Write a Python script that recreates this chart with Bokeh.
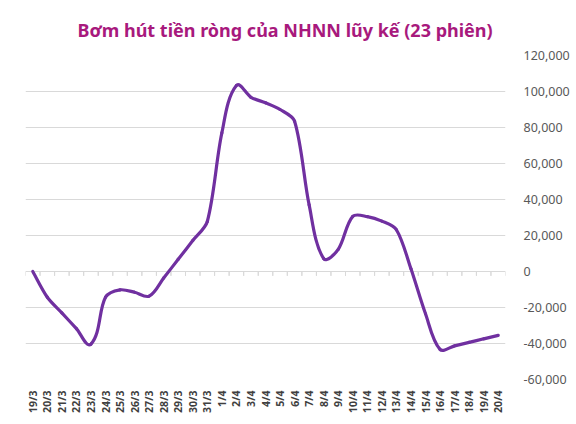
import math
from bokeh.plotting import figure
from bokeh.models import FactorRange, Range1d, LinearAxis, FixedTicker, NumeralTickFormatter, Title, ColumnDataSource
from bokeh.transform import dodge
from bokeh.embed import file_html
from bokeh.resources import INLINE

categories = ["19/3", "20/3", "21/3", "22/3", "23/3", "24/3", "25/3", "26/3", "27/3",
              "28/3", "29/3", "30/3", "31/3", "1/4", "2/4", "3/4", "4/4", "5/4", "6/4",
              "7/4", "8/4", "9/4", "10/4", "11/4", "12/4", "13/4", "14/4", "15/4",
              "16/4", "17/4", "18/4", "19/4", "20/4"]
values = [0, -14300, -23000, -31700, -40300, -14300, -10200, -11500, -13700,
          -3600, 6800, 17200, 27800, 77000, 103300, 96800, 93700, 90000, 83500,
          37000, 7200, 12300, 30600, 30500, 28000, 23200, 1500, -23500,
          -43300, -41300, -39400, -37400, -35500]
y_ticks = [-60000, -40000, -20000, 0, 20000, 40000, 60000, 80000, 100000, 120000]
title_text = "Bơm hút tiền ròng của NHNN lũy kế (23 phiên)"

FW, FH = 480, 324
Y0, Y1 = -60000, 120000

p = figure(x_range=FactorRange(factors=categories, range_padding=0),
           y_range=Range1d(Y0, Y1),
           frame_width=FW, frame_height=FH,
           min_border_left=25, min_border_right=63, min_border_top=55, min_border_bottom=37,
           output_backend="svg", toolbar_location=None, y_axis_location=None)
p.outline_line_color = None
p.background_fill_color = "white"
p.border_fill_color = "white"

t = Title(text=title_text, align="left", text_font="Noto Sans", text_font_style="bold",
          text_font_size="18px", text_color="#A8197D", standoff=27, offset=52)
p.add_layout(t, "above")

yax = LinearAxis(ticker=FixedTicker(ticks=y_ticks),
                 formatter=NumeralTickFormatter(format="0,0"))
yax.axis_line_color = None
yax.major_tick_line_color = None
yax.minor_tick_line_color = None
yax.major_label_standoff = 12
yax.major_label_text_font = "Noto Sans"
yax.major_label_text_font_size = "12.5px"
yax.major_label_text_color = "#595959"
p.add_layout(yax, "right")

xax = p.xaxis[0]
xax.axis_line_color = None
xax.major_tick_line_color = None
xax.minor_tick_line_color = None
xax.major_label_orientation = math.pi / 2
xax.major_label_standoff = 5
xax.major_label_text_font = "Noto Sans"
xax.major_label_text_font_style = "bold"
xax.major_label_text_font_size = "10.5px"
xax.major_label_text_color = "#404040"

p.xgrid.grid_line_color = None
p.ygrid.ticker = FixedTicker(ticks=y_ticks)
p.ygrid.grid_line_color = "#D9D9D9"
p.ygrid.grid_line_width = 1

# tick marks on the zero line, at category boundaries
src = ColumnDataSource(dict(cat=categories, y0=[0] * len(categories), y1=[-2400] * len(categories)))
for off in (-0.5, 0.5):
    p.segment(x0=dodge("cat", off, range=p.x_range), x1=dodge("cat", off, range=p.x_range),
              y0="y0", y1="y1", source=src, line_color="#D9D9D9", line_width=1)

# smoothed line: cubic Bezier through the data points, tangent arms scaled by chord length
n = len(values)
sx = FW / n                      # px per category
sy = FH / (Y1 - Y0)              # px per unit
xs = [i + 0.5 for i in range(n)]
k = 0.3

def tangent(i):
    a = max(i - 1, 0)
    b = min(i + 1, n - 1)
    dx = (xs[b] - xs[a]) * sx
    dy = (values[b] - values[a]) * sy
    L = math.hypot(dx, dy) or 1.0
    return dx / L, dy / L

x0, y0, x1, y1, cx0, cy0, cx1, cy1 = [], [], [], [], [], [], [], []
for i in range(n - 1):
    chord = math.hypot(sx, (values[i + 1] - values[i]) * sy)
    t0 = tangent(i)
    t1 = tangent(i + 1)
    x0.append(xs[i]); y0.append(values[i])
    x1.append(xs[i + 1]); y1.append(values[i + 1])
    cx0.append(xs[i] + t0[0] * chord * k / sx)
    cy0.append(values[i] + t0[1] * chord * k / sy)
    cx1.append(xs[i + 1] - t1[0] * chord * k / sx)
    cy1.append(values[i + 1] - t1[1] * chord * k / sy)
p.bezier(x0=x0, y0=y0, x1=x1, y1=y1, cx0=cx0, cy0=cy0, cx1=cx1, cy1=cy1,
         line_color="#7030A0", line_width=3.2, line_cap="round")

open("out.html", "w").write(file_html(p, INLINE))
